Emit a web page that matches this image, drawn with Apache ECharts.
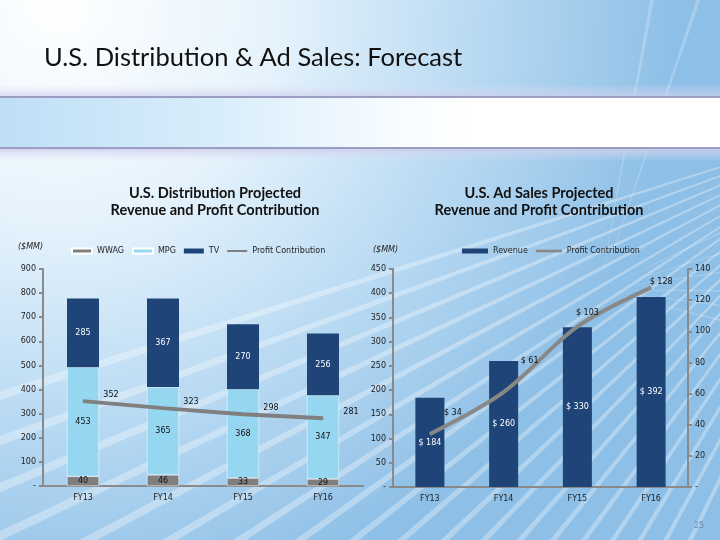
<!DOCTYPE html>
<html><head><meta charset="utf-8">
<script src="https://cdn.jsdelivr.net/npm/echarts@6/dist/echarts.min.js"></script>
<style>html,body{margin:0;padding:0;}#c{width:720px;height:540px;}</style>
</head><body><div id="c"></div>
<script>
// ---- data ----
const categories = ['FY13', 'FY14', 'FY15', 'FY16'];
const wwag = [40, 46, 33, 29];
const mpg = [453, 365, 368, 347];
const tv = [285, 367, 270, 256];
const distProfit = [352, 323, 298, 281];
const adRevenue = [184, 260, 330, 392];
const adProfit = [34, 61, 103, 128];
// ---- label offsets (style) ----
const adProfitLabelOffsets = [[23, -21], [26, -31], [10, -14], [10, -6]];

const FONT = 'DejaVu Sans';
const axisGray = '#8a8a8a';
const navy = '#1f4478';
const light = '#95d6f1';
const gray = '#7f7f7f';
const dashFmt = v => (v === 0 ? '-' : String(v));

const chart = echarts.init(document.getElementById('c'));

// background rays (decoration)
const rays = [];
function ray(cx, cy, a1, a2, r, op) {
  const p = [[cx, cy], [cx + r * Math.cos(a1), cy + r * Math.sin(a1)], [cx + r * Math.cos(a2), cy + r * Math.sin(a2)]];
  rays.push({type: 'polygon', silent: true, z: -9, shape: {points: p}, style: {fill: 'rgba(255,255,255,' + op + ')'}});
}
// stripes fanning down-left from beyond the upper right corner
for (let a = 2.02; a < 2.85; a += 0.045) ray(900, 110, a, a + 0.009, 1300, 0.32);
// faint burst behind the right chart
[-0.45, -0.3, -0.15, 0.0, 0.12, 0.24, -1.25, -1.4].forEach(a => ray(600, 290, a, a + 0.012, 500, 0.22));

chart.setOption({
  backgroundColor: {
    type: 'radial', x: 0.08, y: 0.0, r: 1.15,
    colorStops: [{offset: 0, color: '#ffffff'}, {offset: 0.35, color: '#e6f3fc'}, {offset: 0.7, color: '#b6d8f2'}, {offset: 1, color: '#8ebfe6'}]
  },
  animation: false,
  textStyle: {fontFamily: FONT},
  graphic: [
    ...rays,
    {type: 'rect', silent: true, z: -5, shape: {x: 0, y: 84, width: 720, height: 14}, style: {fill: {type: 'linear', x: 0, y: 0, x2: 0, y2: 1, colorStops: [{offset: 0, color: 'rgba(225,225,245,0)'}, {offset: 1, color: 'rgba(205,205,235,0.8)'}]}}},
    {type: 'rect', silent: true, z: -4, shape: {x: 0, y: 97, width: 720, height: 51}, style: {fill: {type: 'linear', x: 0, y: 0, x2: 1, y2: 0, colorStops: [{offset: 0, color: '#bfdff6'}, {offset: 0.3, color: '#d8edfb'}, {offset: 0.55, color: '#f7fcff'}, {offset: 0.65, color: '#ffffff'}, {offset: 1, color: '#ffffff'}]}}},
    {type: 'rect', silent: true, z: -3, shape: {x: 0, y: 96, width: 720, height: 2}, style: {fill: '#9c9dc2'}},
    {type: 'rect', silent: true, z: -3, shape: {x: 0, y: 147, width: 720, height: 2}, style: {fill: '#9c9dc2'}},
    {type: 'rect', silent: true, z: -5, shape: {x: 0, y: 149, width: 720, height: 12}, style: {fill: {type: 'linear', x: 0, y: 0, x2: 0, y2: 1, colorStops: [{offset: 0, color: 'rgba(205,205,235,0.8)'}, {offset: 1, color: 'rgba(225,225,245,0)'}]}}},
    {type: 'text', left: 44, top: 45, style: {text: 'U.S. Distribution & Ad Sales: Forecast', font: '25.5px Lato', fill: '#111'}},
    {type: 'text', x: 215, y: 185, style: {text: 'U.S. Distribution Projected\nRevenue and Profit Contribution', font: 'bold 14.5px Lato', fill: '#111', align: 'center', lineHeight: 17}},
    {type: 'text', x: 539, y: 185, style: {text: 'U.S. Ad Sales Projected\nRevenue and Profit Contribution', font: 'bold 14.5px Lato', fill: '#111', align: 'center', lineHeight: 17}},
    {type: 'text', x: 18, y: 243, style: {text: '($MM)', font: 'italic 8px ' + FONT, fill: '#222'}},
    {type: 'text', x: 373, y: 246, style: {text: '($MM)', font: 'italic 8px ' + FONT, fill: '#222'}},
    {type: 'text', x: 694, y: 522, style: {text: '25', font: '8px ' + FONT, fill: '#6d8aa8'}}
  ],
  legend: [
    {left: 66, top: 242, itemWidth: 20, itemHeight: 5, itemGap: 8, textStyle: {fontSize: 8, color: '#222', fontFamily: FONT},
     data: [{name: 'WWAG', icon: 'rect'}, {name: 'MPG', icon: 'rect'}, {name: 'TV', icon: 'rect'}, {name: 'Profit Contribution', icon: 'path://M0 0H20V2H0Z'}]},
    {left: 457, top: 242, itemWidth: 26, itemHeight: 5, itemGap: 8, textStyle: {fontSize: 8, color: '#222', fontFamily: FONT},
     data: [{name: 'Revenue', icon: 'rect'}, {name: 'Ad Profit Contribution', icon: 'path://M0 0H20V2H0Z'}],
     formatter: n => n === 'Ad Profit Contribution' ? 'Profit Contribution' : n}
  ],
  grid: [
    {left: 43, right: 357, top: 269, bottom: 54},
    {left: 393, right: 32, top: 269, bottom: 53}
  ],
  xAxis: [
    {type: 'category', gridIndex: 0, data: categories, axisLine: {lineStyle: {color: axisGray, width: 2}}, axisTick: {length: 4, lineStyle: {color: axisGray, width: 2}}, axisLabel: {color: '#222', fontSize: 8, margin: 8}},
    {type: 'category', gridIndex: 1, data: categories, axisLine: {lineStyle: {color: axisGray, width: 2}}, axisTick: {length: 4, lineStyle: {color: axisGray, width: 2}}, axisLabel: {color: '#222', fontSize: 8, margin: 8}}
  ],
  yAxis: [
    {type: 'value', gridIndex: 0, min: 0, max: 900, interval: 100, splitLine: {show: false}, axisLine: {show: true, lineStyle: {color: axisGray, width: 2}}, axisTick: {show: true, length: 4, lineStyle: {color: axisGray, width: 2}}, axisLabel: {color: '#222', fontSize: 8, margin: 7, formatter: dashFmt}},
    {type: 'value', gridIndex: 1, min: 0, max: 450, interval: 50, splitLine: {show: false}, axisLine: {show: true, lineStyle: {color: axisGray, width: 2}}, axisTick: {show: true, length: 4, lineStyle: {color: axisGray, width: 2}}, axisLabel: {color: '#222', fontSize: 8, margin: 7, formatter: dashFmt}},
    {type: 'value', gridIndex: 1, position: 'right', min: 0, max: 140, interval: 20, splitLine: {show: false}, axisLine: {show: true, lineStyle: {color: axisGray, width: 2}}, axisTick: {show: true, length: 4, lineStyle: {color: axisGray, width: 2}}, axisLabel: {color: '#222', fontSize: 8, margin: 7, formatter: dashFmt}}
  ],
  series: [
    {name: 'WWAG', type: 'bar', stack: 'd', xAxisIndex: 0, yAxisIndex: 0, data: wwag, barWidth: 32, itemStyle: {color: gray, borderColor: '#ffffff', borderWidth: 0.5},
     label: {show: true, position: 'inside', color: '#111', fontSize: 8}},
    {name: 'MPG', type: 'bar', stack: 'd', xAxisIndex: 0, yAxisIndex: 0, data: mpg, barWidth: 32, itemStyle: {color: light, borderColor: '#ffffff', borderWidth: 0.5},
     label: {show: true, position: 'inside', color: '#111', fontSize: 8}},
    {name: 'TV', type: 'bar', stack: 'd', xAxisIndex: 0, yAxisIndex: 0, data: tv, barWidth: 32, itemStyle: {color: navy},
     label: {show: true, position: 'inside', color: '#fff', fontSize: 8}},
    {name: 'Profit Contribution', type: 'line', xAxisIndex: 0, yAxisIndex: 0, data: distProfit, symbol: 'circle', symbolSize: 1, z: 5,
     lineStyle: {color: '#7f7f7f', width: 4}, itemStyle: {color: '#7f7f7f'},
     label: {show: true, position: 'inside', offset: [28, -6], color: '#111', fontSize: 8}},
    {name: 'Revenue', type: 'bar', xAxisIndex: 1, yAxisIndex: 1, data: adRevenue, barWidth: 29, itemStyle: {color: navy},
     label: {show: true, position: 'inside', color: '#fff', fontSize: 8, formatter: p => '$ ' + p.value}},
    {name: 'Ad Profit Contribution', type: 'line', xAxisIndex: 1, yAxisIndex: 2, smooth: 0.35, symbol: 'circle', symbolSize: 1, z: 5,
     data: adProfit.map((v, i) => ({value: v, label: {offset: adProfitLabelOffsets[i]}})),
     lineStyle: {color: '#888888', width: 4}, itemStyle: {color: '#888888'},
     label: {show: true, position: 'inside', color: '#111', fontSize: 8, formatter: p => '$ ' + p.value}}
  ]
});
</script></body></html>
